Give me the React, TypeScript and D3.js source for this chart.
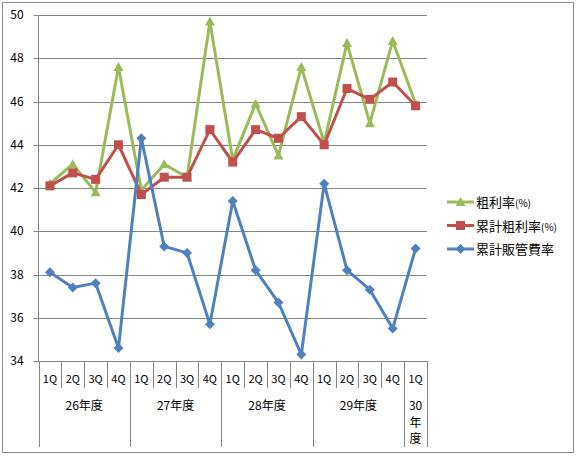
import React from "react";
import * as d3 from "d3";

const quarters = ["1Q","2Q","3Q","4Q","1Q","2Q","3Q","4Q","1Q","2Q","3Q","4Q","1Q","2Q","3Q","4Q","1Q"];
const years = ["26年度","27年度","28年度","29年度","30年度"];
const yearSpans = [4, 4, 4, 4, 1];
const grossMargin = [42.2,43.1,41.8,47.6,41.9,43.1,42.5,49.7,43.3,45.9,43.5,47.6,44.1,48.7,45.0,48.8,45.9];
const cumGrossMargin = [42.1,42.7,42.4,44.0,41.7,42.5,42.5,44.7,43.2,44.7,44.3,45.3,44.0,46.6,46.1,46.9,45.8];
const cumSgaRatio = [38.1,37.4,37.6,34.6,44.3,39.3,39.0,35.7,41.4,38.2,36.7,34.3,42.2,38.2,37.3,35.5,39.2];
const yTicks = [34,36,38,40,42,44,46,48,50];
const seriesNames = ["粗利率","累計粗利率","累計販管費率"];
const seriesSuffix = ["(%)","(%)",""];

const W = 578, H = 456;
const left = 38.5, right = 427, top = 15, bottom = 361;
const font = "'Noto Sans CJK JP', 'DejaVu Sans', sans-serif";

export default function App() {
  const x = d3.scaleBand<number>().domain(d3.range(quarters.length)).range([left, right]);
  const y = d3.scaleLinear().domain([34, 50]).range([bottom, top]);
  const cx = (i: number) => (x(i) as number) + x.bandwidth() / 2;
  const line = d3.line<number>().x((_, i) => cx(i)).y((v) => y(v));

  const colors = ["#9BBB59", "#C0504D", "#4F81BD"];
  const data = [grossMargin, cumGrossMargin, cumSgaRatio];

  const marker = (k: number, px: number, py: number, key: string) => {
    const c = colors[k];
    if (k === 0) {
      const s = 5;
      return <path key={key} d={`M${px},${py - s} L${px + s},${py + s * 0.8} L${px - s},${py + s * 0.8} Z`} fill={c} />;
    }
    if (k === 1) {
      return <rect key={key} x={px - 4.5} y={py - 4.5} width={9} height={9} fill={c} />;
    }
    const s = 5;
    return <path key={key} d={`M${px},${py - s} L${px + s},${py} L${px},${py + s} L${px - s},${py} Z`} fill={c} />;
  };

  const groupEdges: number[] = [0];
  yearSpans.forEach((s) => groupEdges.push(groupEdges[groupEdges.length - 1] + s));
  const edgeX = (i: number) => (i < quarters.length ? (x(i) as number) : right);

  return (
    <svg width={W} height={H} style={{ position: "absolute", left: 0, top: 0 }} fontFamily={font}>
      <rect x={0} y={0} width={W} height={H} fill="#fff" />
      <rect x={2.5} y={2.5} width={571} height={450} fill="none" stroke="#8c8c8c" strokeWidth={1} />
      {yTicks.map((t) => (
        <g key={t}>
          <line x1={left - 5} x2={right} y1={Math.round(y(t)) + 0.5} y2={Math.round(y(t)) + 0.5} stroke="#868686" strokeWidth={1} />
          <text x={17} y={y(t) + 4} textAnchor="middle" fontSize={12} fill="#000">{t}</text>
        </g>
      ))}
      <line x1={left} x2={left} y1={top} y2={bottom} stroke="#868686" />
      {d3.range(quarters.length + 1).map((i) => {
        const isGroup = groupEdges.includes(i);
        const xx = Math.round(edgeX(i)) + 0.5;
        return <line key={i} x1={xx} x2={xx} y1={bottom} y2={isGroup ? 447 : 388} stroke="#868686" />;
      })}
      {quarters.map((q, i) => (
        <text key={i} x={cx(i)} y={383} textAnchor="middle" fontSize={11} fill="#000">{q}</text>
      ))}
      {years.map((yr, gi) => {
        const a = edgeX(groupEdges[gi]);
        const b = edgeX(groupEdges[gi + 1]);
        const mid = (a + b) / 2;
        if (yearSpans[gi] === 1) {
          return (
            <text key={gi} textAnchor="middle" fontSize={12} fill="#000">
              <tspan x={mid} y={410}>{yr.slice(0, 2)}</tspan>
              <tspan x={mid} y={427}>{yr.slice(2, 3)}</tspan>
              <tspan x={mid} y={443}>{yr.slice(3)}</tspan>
            </text>
          );
        }
        return <text key={gi} x={mid} y={410} textAnchor="middle" fontSize={12} fill="#000">{yr}</text>;
      })}
      {data.map((d, k) => (
        <g key={k}>
          <path d={line(d) as string} fill="none" stroke={colors[k]} strokeWidth={3} strokeLinejoin="round" />
          {d.map((v, i) => marker(k, cx(i), y(v), `${k}-${i}`))}
        </g>
      ))}
      {seriesNames.map((n, k) => {
        const ly = 202 + k * 23.5;
        return (
          <g key={k}>
            <line x1={447} x2={474} y1={ly} y2={ly} stroke={colors[k]} strokeWidth={3} />
            {marker(k, 460.5, ly, `l${k}`)}
            <text x={476} y={ly + 5} fontSize={13} fill="#000">
              {n}
              <tspan fontSize={10}>{seriesSuffix[k]}</tspan>
            </text>
          </g>
        );
      })}
    </svg>
  );
}
